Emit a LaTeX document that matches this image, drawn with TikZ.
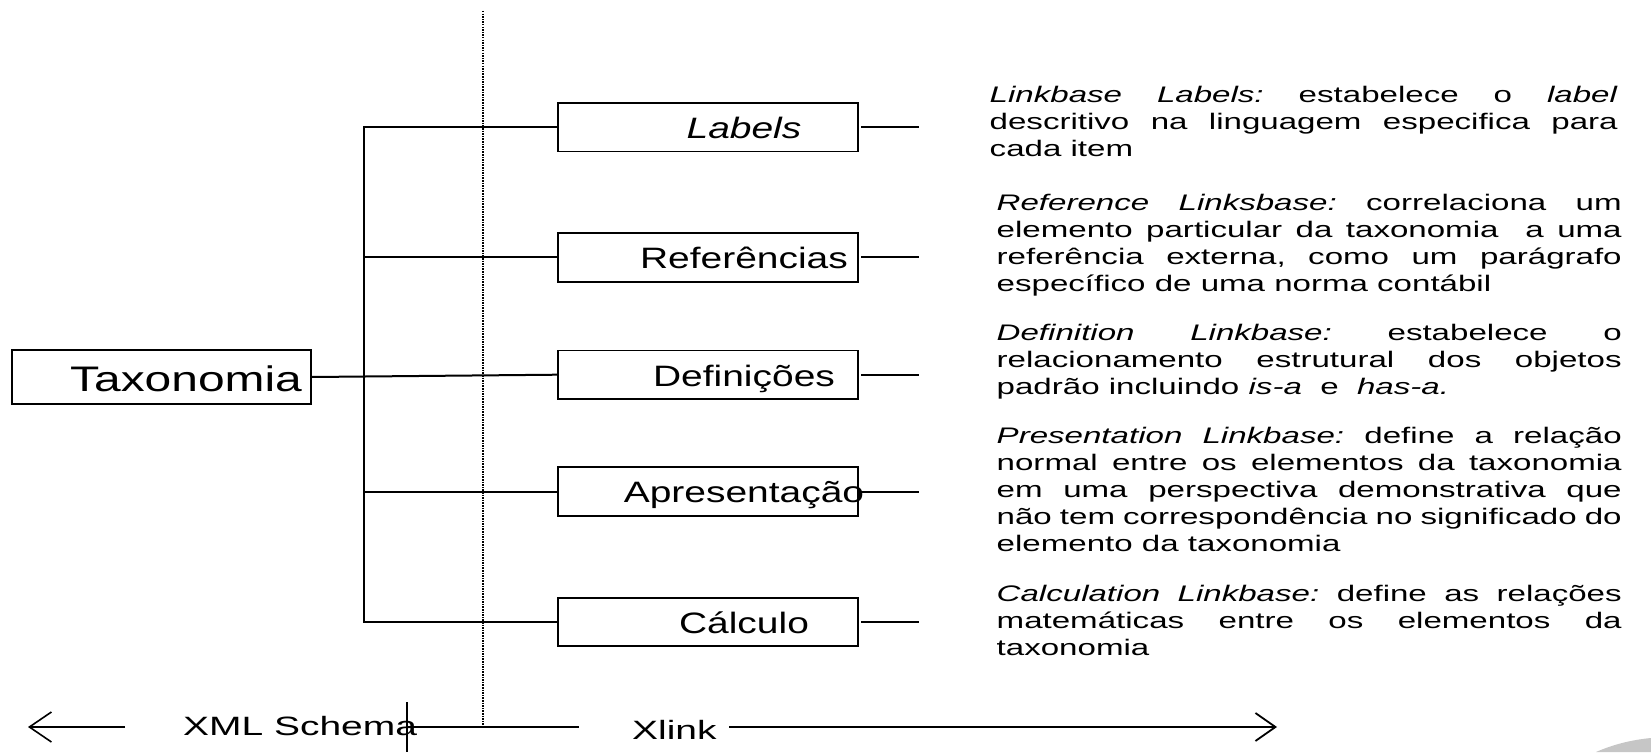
\documentclass[tikz,border=0pt]{standalone}
\usepackage{fontspec}
\setmainfont{Liberation Sans}
\newfontfamily\pfont[FakeStretch=1.47]{Liberation Sans}
\newfontfamily\bfontx[FakeStretch=1.32]{Liberation Sans}
\newfontfamily\tfontx[FakeStretch=1.35]{Liberation Sans}
\usetikzlibrary{arrows.meta}
\frenchspacing
\newcommand{\jline}[1]{\hbox to \hsize{#1}}
\newcommand{\lline}[1]{\hbox{#1}}
\newcommand{\parblock}[2]{\vtop{\hsize=#1\relax #2}}
\begin{document}
\begin{tikzpicture}[x=1pt,y=-1pt,
  box/.style={draw, line width=1.9pt, minimum width=300pt, minimum height=48.5pt, inner sep=0pt},
  btxt/.style={font=\bfontx\fontsize{29.5}{32}\selectfont, inner sep=0pt, anchor=base},
  ttxt/.style={font=\tfontx\fontsize{35.5}{38}\selectfont, inner sep=0pt, anchor=base},
  xtxt/.style={font=\pfont\fontsize{26.5}{30}\selectfont, inner sep=0pt, anchor=base west},
  para/.style={font=\pfont\fontsize{22.5}{27}\selectfont\frenchspacing, inner sep=0pt, anchor=base west},
  ln/.style={line width=2pt},
  dotline/.style={line width=1.8pt, dash pattern=on 1.5pt off 1.1pt},
  arrL/.style={line width=1.6pt, -{Straight Barb[length=22pt,width=30pt]}},
  arrR/.style={line width=1.8pt, -{Straight Barb[length=20pt,width=28pt]}}
]
\useasboundingbox (0,0) rectangle (1651,752);

% decorative swoosh
\fill[gray!45] (1596,752) .. controls (1612,745) and (1630,740) .. (1651,738) -- (1651,752) -- cycle;

% dotted separator
\coordinate (d1) at (483.3,11);
\coordinate (d2) at (483.3,727);
\draw[dotline] (d1) -- (d2);

% root
\node[box, minimum width=299pt, minimum height=54pt] (tax) at (161.2,377) {};
\node[ttxt] (taxt) at (186,391) {Taxonomia};

% children boxes
\node[box] (lab) at (708,127.2) {};
\node[box] (ref) at (708,257.4) {};
\node[box] (def) at (708,374.7) {};
\node[box] (apr) at (708,491.5) {};
\node[box] (cal) at (708,621.9) {};

\node[btxt] (labt) at (744,138.6) {\itshape Labels};
\node[btxt] (reft) at (744,268.8) {Referências};
\node[btxt] (deft) at (744,386.1) {Definições};
\node[btxt] (aprt) at (744,502.9) {Apresentação};
\node[btxt] (calt) at (744,633.3) {Cálculo};

% tree connectors
\coordinate (tk) at (364,0);
\draw[ln] (lab.west) -| (tk |- cal.west) -- (cal.west);
\draw[ln] (ref.west) -- (ref.west -| tk);
\draw[ln] (apr.west) -- (apr.west -| tk);
\draw[ln] (tax.east) -- (def.west);

% right stubs
\coordinate (labR) at (919,127.2);
\coordinate (refR) at (919,257.4);
\coordinate (defR) at (919,374.7);
\coordinate (aprR) at (919,491.5);
\coordinate (calR) at (919,621.9);
\draw[ln] ([xshift=2.5pt]lab.east) -- (labR);
\draw[ln] ([xshift=2.5pt]ref.east) -- (refR);
\draw[ln] ([xshift=2.5pt]def.east) -- (defR);
\draw[ln] ([xshift=2.5pt]apr.east) -- (aprR);
\draw[ln] ([xshift=2.5pt]cal.east) -- (calR);

% paragraphs
\node[para] (p1) at (989.5,102.3) {\parblock{628pt}{%
\jline{\itshape Linkbase Labels:\upshape{} estabelece o \itshape label\/}%
\jline{descritivo na linguagem especifica para}%
\lline{cada item}}};

\node[para] (p2) at (996.5,210.7) {\parblock{625pt}{%
\jline{\itshape Reference Linksbase:\upshape{} correlaciona um}%
\jline{elemento particular da taxonomia\ \ a uma}%
\jline{referência externa, como um parágrafo}%
\lline{específico de uma norma contábil}}};

\node[para] (p3) at (996.5,340.3) {\parblock{625pt}{%
\jline{\itshape Definition Linkbase:\upshape{} estabelece o}%
\jline{relacionamento estrutural dos objetos}%
\lline{padrão incluindo \itshape is-a\upshape{}\ \ e\ \ \itshape has-a.}}};

\node[para] (p4) at (996.5,443.6) {\parblock{625pt}{%
\jline{\itshape Presentation Linkbase:\upshape{} define a relação}%
\jline{normal entre os elementos da taxonomia}%
\jline{em uma perspectiva demonstrativa que}%
\jline{não tem correspondência no significado do}%
\lline{elemento da taxonomia}}};

\node[para] (p5) at (996.5,601.5) {\parblock{625pt}{%
\jline{\itshape Calculation Linkbase:\upshape{} define as relações}%
\jline{matemáticas entre os elementos da}%
\lline{taxonomia}}};

% bottom axis
\coordinate (la0) at (125,727);
\coordinate (la1) at (28,727);
\draw[arrL] (la0) -- (la1);
\node[xtxt] (xml) at (183,735) {XML Schema};
\coordinate (tk1) at (407,702);
\coordinate (tk2) at (407,752);
\draw[ln] (tk1) -- (tk2);
\coordinate (h0) at (407,727);
\coordinate (h1) at (579,727);
\draw[ln] (h0) -- (h1);
\node[xtxt] (xl) at (632,739) {Xlink};
\coordinate (ra0) at (729,727);
\coordinate (ra1) at (1277,727);
\draw[arrR] (ra0) -- (ra1);
\end{tikzpicture}
\end{document}
